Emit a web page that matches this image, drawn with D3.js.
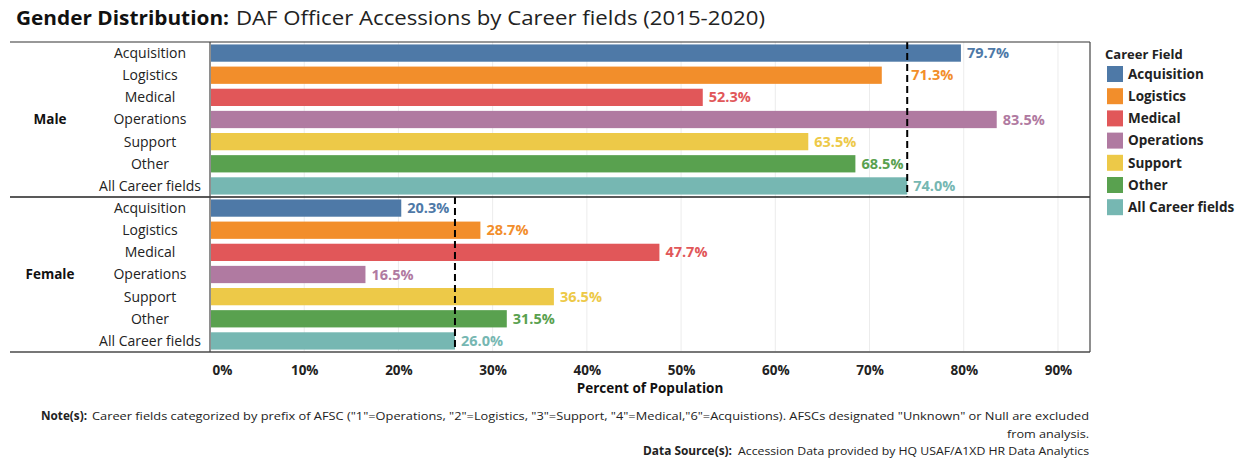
<!DOCTYPE html>
<html><head><meta charset="utf-8">
<script src="https://cdn.jsdelivr.net/npm/d3@7"></script>
<style>
body{margin:0;background:#fff;}
text{font-family:"Open Sans",sans-serif;}
</style></head>
<body><svg id="c" width="1242" height="461"></svg>
<script>
const categories = ["Acquisition","Logistics","Medical","Operations","Support","Other","All Career fields"];
const genders = ["Male","Female"];
const maleValues = [79.7, 71.3, 52.3, 83.5, 63.5, 68.5, 74.0];
const femaleValues = [20.3, 28.7, 47.7, 16.5, 36.5, 31.5, 26.0];
const referenceValues = [74.0, 26.0];
const colors = ["#4e79a7","#f28e2b","#e15759","#b07aa1","#edc948","#59a14f","#76b7b2"];
const tickValues = [0,10,20,30,40,50,60,70,80,90];

const svg = d3.select("#c");
const L = 210, R = 1090, T = 42, B = 352, LEFT = 10;
const x = d3.scaleLinear().domain([0, 93.4]).range([L, R]);
const gy = d3.scaleBand().domain(genders).range([T, B]);
const color = d3.scaleOrdinal().domain(categories).range(colors);
const seriesByGender = {Male: maleValues, Female: femaleValues};

// gridlines
svg.append("g").selectAll("line").data(tickValues.slice(1)).join("line")
  .attr("x1", d => x(d)).attr("x2", d => x(d)).attr("y1", T).attr("y2", B)
  .attr("stroke", "#ececec").attr("stroke-width", 1);

genders.forEach((g, gi) => {
  const y = d3.scaleBand().domain(categories).range([gy(g), gy(g) + gy.bandwidth()]).paddingInner(0.22).paddingOuter(0.11);
  const vals = seriesByGender[g];
  const ref = referenceValues[gi];
  const grp = svg.append("g");
  grp.selectAll("rect").data(categories).join("rect")
    .attr("x", x(0) + 1).attr("y", (d) => y(d))
    .attr("width", (d, i) => x(vals[i]) - x(0) - 1).attr("height", y.bandwidth())
    .attr("fill", d => color(d));
  // label placed after bar end; if it would collide with the reference line, push it past the line
  const labelX = v => {
    const lx = x(v) + 6;
    return (lx < x(ref) + 3 && lx + 42 > x(ref) - 1) ? x(ref) + 4 : lx;
  };
  grp.selectAll("text.val").data(categories).join("text").attr("class","val")
    .attr("x", (d, i) => labelX(vals[i])).attr("y", d => y(d) + y.bandwidth()/2)
    .attr("dy", "0.35em").attr("font-size", 14.5).attr("font-weight", "bold")
    .attr("fill", d => color(d)).text((d, i) => vals[i].toFixed(1) + "%");
  // row labels
  grp.selectAll("text.row").data(categories).join("text").attr("class","row")
    .attr("x", 150).attr("y", d => y(d) + y.bandwidth()/2).attr("dy", "0.35em")
    .attr("text-anchor", "middle").attr("font-size", 14).attr("fill", "#222").text(d => d);
  // group label
  svg.append("text").attr("x", 50).attr("y", gy(g) + gy.bandwidth()/2).attr("dy", "0.35em")
    .attr("text-anchor", "middle").attr("font-size", 13.5).attr("font-weight", "bold").attr("fill", "#111").text(g);
  // reference line
  svg.append("line").attr("x1", x(ref)).attr("x2", x(ref))
    .attr("y1", gy(g)).attr("y2", gy(g) + gy.bandwidth())
    .attr("stroke", "#000").attr("stroke-width", 2).attr("stroke-dasharray", "7,4");
});

// borders
svg.append("line").attr("x1", LEFT).attr("x2", R).attr("y1", T).attr("y2", T).attr("stroke", "#333").attr("stroke-width", 1.2);
svg.append("line").attr("x1", LEFT).attr("x2", R).attr("y1", gy("Female")).attr("y2", gy("Female")).attr("stroke", "#222").attr("stroke-width", 1.5);
svg.append("line").attr("x1", LEFT).attr("x2", R).attr("y1", B).attr("y2", B).attr("stroke", "#777").attr("stroke-width", 2);
svg.append("line").attr("x1", L).attr("x2", L).attr("y1", T).attr("y2", B).attr("stroke", "#444").attr("stroke-width", 1.2);
svg.append("line").attr("x1", R).attr("x2", R).attr("y1", T).attr("y2", B).attr("stroke", "#444").attr("stroke-width", 1.2);

// x axis
const axis = d3.axisBottom(x).tickValues(tickValues).tickSize(0).tickFormat(d => d + "%");
const ax = svg.append("g").attr("transform", `translate(0,${B + 10})`).call(axis);
ax.select(".domain").remove();
ax.selectAll("text").attr("font-size", 13.5).attr("font-weight", "bold").attr("fill", "#222")
  .attr("font-family", "Open Sans");
ax.selectAll(".tick").filter(d => d === 0).select("text").attr("text-anchor", "start").attr("x", 2);
svg.append("text").attr("x", (L + R) / 2).attr("y", 393).attr("text-anchor", "middle")
  .attr("font-size", 13.5).attr("font-weight", "bold").attr("fill", "#111").text("Percent of Population");

// title
svg.append("text").attr("x", 16).attr("y", 25).attr("font-size", 20).attr("fill", "#111")
  .attr("font-weight", "bold").attr("textLength", 213).attr("lengthAdjust", "spacingAndGlyphs")
  .text("Gender Distribution:");
svg.append("text").attr("x", 236).attr("y", 25).attr("font-size", 20).attr("fill", "#222")
  .attr("textLength", 529).attr("lengthAdjust", "spacingAndGlyphs")
  .text("DAF Officer Accessions by Career fields (2015-2020)");

// legend
svg.append("text").attr("x", 1105).attr("y", 54).attr("dy", "0.35em").attr("font-size", 13)
  .attr("font-weight", "bold").attr("fill", "#222").text("Career Field");
const lg = svg.append("g").selectAll("g").data(categories).join("g")
  .attr("transform", (d, i) => `translate(1107,${74 + i * 22.2})`);
lg.append("rect").attr("x", 0).attr("y", -8).attr("width", 16).attr("height", 16).attr("fill", d => color(d));
lg.append("text").attr("x", 21).attr("dy", "0.35em").attr("font-size", 13.5).attr("font-weight", "bold")
  .attr("fill", "#222").text(d => d);

// notes
const note = (x0, y0, len, txt, bold) => svg.append("text").attr("x", x0).attr("y", y0)
  .attr("font-size", 11.5).attr("fill", "#222").attr("font-weight", bold ? "bold" : "normal")
  .attr("textLength", len).attr("lengthAdjust", "spacingAndGlyphs").text(txt);
note(41, 420, 46, "Note(s):", true);
note(92, 420, 997, "Career fields categorized by prefix of AFSC (\"1\"=Operations, \"2\"=Logistics, \"3\"=Support, \"4\"=Medical,\"6\"=Acquistions).  AFSCs designated \"Unknown\" or Null are excluded", false);
note(1007, 438, 82, "from analysis.", false);
note(643, 455, 89, "Data Source(s):", true);
note(738, 455, 351, "Accession Data provided by HQ USAF/A1XD HR Data Analytics", false);
</script></body></html>
